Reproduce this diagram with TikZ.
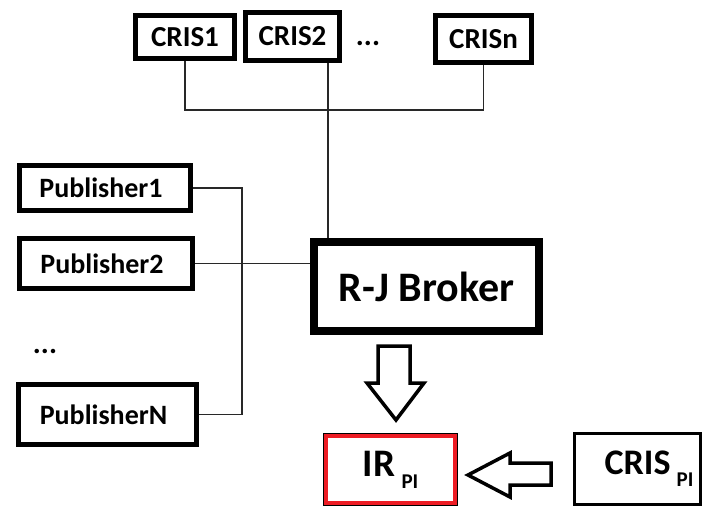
\documentclass[tikz,border=0pt]{standalone}
\usepackage{fontspec}
\setmainfont{Carlito}
\definecolor{paintred}{RGB}{237,28,36}
\definecolor{wiregray}{RGB}{40,40,40}
\newcommand{\pxfont}[1]{\fontsize{#1}{#1}\selectfont}

\begin{document}
\begin{tikzpicture}[x=1pt,y=-1pt,
    box/.style={draw,line width=5pt,fill=white,inner sep=0pt},
    wire/.style={wiregray,line width=1.3pt},
    fatarrow/.style={draw,line width=3.5pt,line join=miter,fill=white}]
        \useasboundingbox (0,0) rectangle (702,507);

        % CRIS systems
        \node[box,minimum width=99,minimum height=43,font=\bfseries\pxfont{29}] (cris1) at (185,37) {CRIS1};
        \node[box,minimum width=94,minimum height=48,font=\bfseries\pxfont{29}] (cris2) at (292.5,36.5) {CRIS2};
        \node[font=\bfseries\pxfont{30}] (crisdots) at (368,43) {...};
        \node[box,minimum width=96,minimum height=47,font=\bfseries\pxfont{29}] (crisn) at (483.5,39) {CRISn};

        % publishers
        \node[box,minimum width=171,minimum height=45,font=\bfseries\pxfont{28}] (pub1) at (105,188) {Publisher1\hspace*{8pt}};
        \node[box,minimum width=173,minimum height=50,font=\bfseries\pxfont{28}] (pub2) at (106,263.5) {Publisher2\hspace*{8pt}};
        \node[font=\bfseries\pxfont{30}] (pubdots) at (45,351) {...};
        \node[box,minimum width=178,minimum height=60,font=\bfseries\pxfont{28}] (pubn) at (107.5,414.5) {PublisherN\hspace*{8pt}};

        % broker
        \node[box,line width=8pt,minimum width=225,minimum height=89,font=\bfseries\pxfont{42}] (broker) at (426.5,286.5) {R-J Broker};

        % IR and local CRIS
        \node[draw,line width=1.5pt,fill=white,minimum width=133.5,minimum height=71.5,font=\bfseries\pxfont{39}] (ir) at (390.5,469.5)
            {IR\,\raisebox{-12pt}{\pxfont{21}PI}};
        \draw[paintred,line width=4pt] ([shift={(2.8,2.8)}]ir.north west) rectangle ([shift={(-2.8,-2.8)}]ir.south east);
        \node[box,line width=3pt,minimum width=126,minimum height=71,font=\bfseries\pxfont{36}] (crispi) at (637,469)
            {\hspace*{24pt}CRIS\hspace{6pt}\raisebox{-12pt}{\pxfont{21}PI}};

        % wires
        \coordinate (crisbus) at (0,110);
        \coordinate (pubbus) at (242,0);
        \draw[wire] (cris1.south) -- (cris1.south |- crisbus) -| (crisn.south);
        \draw[wire] ([xshift=35.5]cris2.south) -- ([xshift=35.5]cris2.south |- broker.north);
        \draw[wire] (pub1.east) -- (pub1.east -| pubbus) -- (pubn.east -| pubbus) -- (pubn.east);
        \draw[wire] (pub2.east) -- (pub2.east -| broker.west);

        % block arrows
        \draw[fatarrow] (378,346) -- (410,346) -- (410,383) -- (424,383) -- (396,420) -- (367,383) -- (378,383) -- cycle;
        \draw[fatarrow] (551,463) -- (551,485) -- (510,485) -- (510,497) -- (468,475) -- (510,453) -- (510,463) -- cycle;
    \end{tikzpicture}
\end{document}
